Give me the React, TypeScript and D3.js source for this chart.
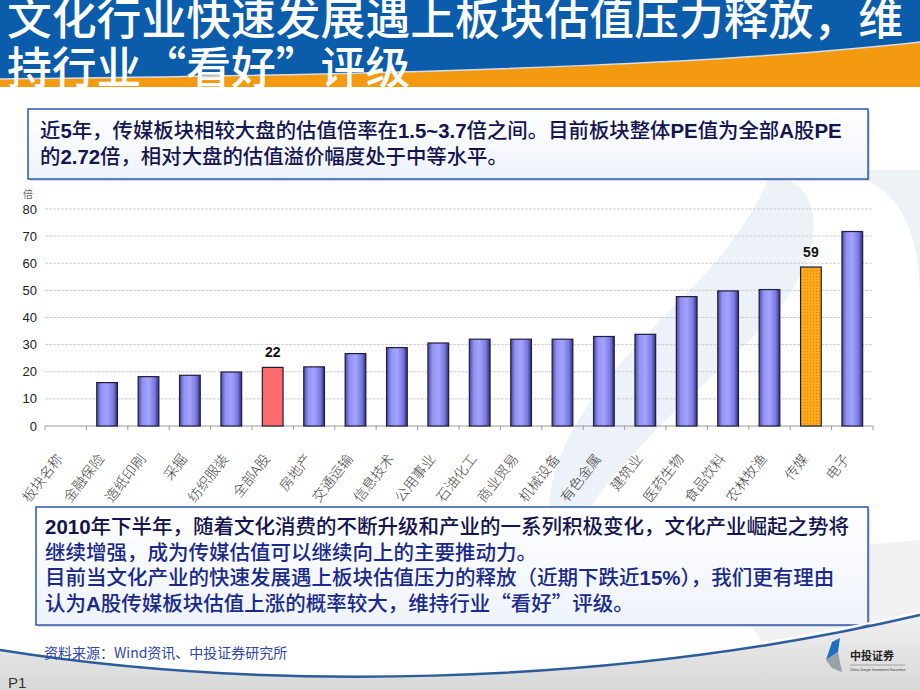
import * as d3 from 'd3';

// 板块PE（倍），读自原图
const categories = ['板块名称', '金融保险', '造纸印刷', '采掘', '纺织服装', '全部A股', '房地产', '交通运输', '信息技术', '公用事业', '石油化工', '商业贸易', '机械设备', '有色金属', '建筑业', '医药生物', '食品饮料', '农林牧渔', '传媒', '电子'];
const peValues = [null, 16, 18.2, 18.7, 19.9, 21.6, 21.8, 26.7, 28.9, 30.6, 32, 32, 32, 33, 33.8, 47.7, 49.8, 50.3, 58.6, 71.7];
const labelled = ['全部A股', '传媒'];
const yTicks = [0, 10, 20, 30, 40, 50, 60, 70, 80];

const titleLines = ['文化行业快速发展遇上板块估值压力释放，维', '持行业“看好”评级'];
const topNote = [
  '近5年，传媒板块相较大盘的估值倍率在1.5~3.7倍之间。目前板块整体PE值为全部A股PE',
  '的2.72倍，相对大盘的估值溢价幅度处于中等水平。',
];
const bottomNote = [
  '2010年下半年，随着文化消费的不断升级和产业的一系列积极变化，文化产业崛起之势将',
  '继续增强，成为传媒估值可以继续向上的主要推动力。',
  '目前当文化产业的快速发展遇上板块估值压力的释放（近期下跌近15%），我们更有理由',
  '认为A股传媒板块估值上涨的概率较大，维持行业“看好”评级。',
];
const source = '资料来源：Wind资讯、中投证券研究所';

const CJK = '"Noto Sans CJK SC", "Noto Sans", sans-serif';
const LATIN = '"Liberation Sans", Arial, sans-serif';

// split a line into latin / cjk runs so numbers come out in Arial bold like the slide
function runs(s: string) {
  const out: { t: string; latin: boolean }[] = [];
  const re = /[0-9A-Za-z.~%]+/g;
  let last = 0;
  let m: RegExpExecArray | null;
  while ((m = re.exec(s))) {
    if (m.index > last) out.push({ t: s.slice(last, m.index), latin: false });
    out.push({ t: m[0], latin: true });
    last = m.index + m[0].length;
  }
  if (last < s.length) out.push({ t: s.slice(last), latin: false });
  return out;
}

function NoteLine({ text, x, y, size, fill }: { text: string; x: number; y: number; size: number; fill: string }) {
  return (
    <text x={x} y={y} fontSize={size} fill={fill} fontFamily={CJK} fontWeight={500}>
      {runs(text).map((r, i) =>
        r.latin ? (
          <tspan key={i} fontFamily={LATIN} fontWeight="bold">{r.t}</tspan>
        ) : (
          <tspan key={i}>{r.t}</tspan>
        )
      )}
    </text>
  );
}

export default function App() {
  const W = 920;
  const H = 690;
  const plot = { left: 45, right: 873, top: 209, bottom: 426 };

  const x = d3.scaleBand<string>().domain(categories).range([plot.left, plot.right]).padding(0);
  const y = d3.scaleLinear().domain([0, 80]).range([plot.bottom, plot.top]);
  const barW = x.step() * 0.5;
  const fmt = d3.format('.0f');

  const footerCurve = 'M0,650 C250,690 600,690 920,615';

  return (
    <div style={{ position: 'absolute', left: 0, top: 0 }}>
      <svg width={W} height={H} style={{ display: 'block' }}>
        <defs>
          <linearGradient id="barGrad" x1="0" x2="1" y1="0" y2="0">
            <stop offset="0%" stopColor="#4a4aa0" />
            <stop offset="22%" stopColor="#9393f5" />
            <stop offset="50%" stopColor="#a3a3ff" />
            <stop offset="80%" stopColor="#7a7ae0" />
            <stop offset="100%" stopColor="#2e2e78" />
          </linearGradient>
          <pattern id="dots" width="3" height="3" patternUnits="userSpaceOnUse">
            <rect width="3" height="3" fill="#ffa81a" />
            <rect width="1" height="1" fill="#e08600" />
          </pattern>
          <linearGradient id="footGrad" x1="0" x2="0" y1="0" y2="1">
            <stop offset="0%" stopColor="#f0f0f0" />
            <stop offset="100%" stopColor="#d8d8d8" />
          </linearGradient>
          <linearGradient id="boxGrad" x1="0" x2="0" y1="0" y2="1">
            <stop offset="0%" stopColor="#ffffff" />
            <stop offset="100%" stopColor="#eef3fb" />
          </linearGradient>
          <clipPath id="titleClip">
            <rect x="0" y="0" width={W} height="96" />
          </clipPath>
        </defs>

        <rect width={W} height={H} fill="#ffffff" />

        {/* faint watermark swoosh */}
        <path d="M770,175 C830,180 830,260 760,330 C690,400 600,470 560,560 C520,470 600,380 680,300 C740,240 760,200 770,175 Z" fill="#edf2f9" />
        <path d="M830,170 C900,178 920,230 920,300 L920,170 Z" fill="#eef1f6" />
        <path d="M700,560 L920,540 L920,690 L800,690 Z" fill="#f1f1f1" />

        {/* title banner */}
        <rect x="0" y="0" width={W} height="87" fill="#f39a10" />
        <path d="M0,0 L920,0 L920,42 C760,60 500,74 0,79 Z" fill="#0b5cab" />
        <path d="M0,79 C500,74 760,60 920,42" fill="none" stroke="#d9dde6" strokeWidth="1.5" />
        <g clipPath="url(#titleClip)">
          {titleLines.map((t, i) => (
            <text key={i} x={7} y={35 + i * 49} fontSize={44.8} fill="#ffffff" fontFamily={CJK} fontWeight={500}>
              {t}
            </text>
          ))}
        </g>

        {/* top note box */}
        <rect x={30} y={111} width={840} height={70} fill="#aab4c8" opacity={0.5} />
        <rect x={28} y={109} width={840} height={70} fill="url(#boxGrad)" stroke="#2e56b0" strokeWidth={1.5} />
        {topNote.map((t, i) => (
          <NoteLine key={i} text={t} x={40} y={138 + i * 26} size={20.4} fill="#14144f" />
        ))}

        {/* chart */}
        <text x={23} y={198} fontSize={10} fill="#666" fontFamily={CJK}>倍</text>
        {yTicks.map((t) => (
          <g key={t}>
            {t > 0 && (
              <line x1={plot.left} x2={plot.right} y1={y(t)} y2={y(t)} stroke="#cfcfcf" strokeWidth={1} strokeDasharray="3,1" />
            )}
            <text x={37} y={y(t)} dy="0.35em" textAnchor="end" fontSize={13} fill="#222" fontFamily={LATIN}>
              {t}
            </text>
          </g>
        ))}
        <line x1={plot.left} x2={plot.right} y1={plot.bottom} y2={plot.bottom} stroke="#9a9a9a" />
        {categories.map((c) => (
          <line key={'tk' + c} x1={x(c) ?? 0} x2={x(c) ?? 0} y1={plot.bottom} y2={plot.bottom + 4} stroke="#9a9a9a" />
        ))}
        <line x1={plot.right} x2={plot.right} y1={plot.bottom} y2={plot.bottom + 4} stroke="#9a9a9a" />

        {categories.map((c, i) => {
          const v = peValues[i];
          if (v == null) return null;
          const cx = (x(c) ?? 0) + x.step() / 2;
          const fill = c === '全部A股' ? '#ff6b6b' : c === '传媒' ? 'url(#dots)' : 'url(#barGrad)';
          return (
            <g key={'b' + c}>
              <rect x={cx - barW / 2} y={y(v)} width={barW} height={plot.bottom - y(v)} fill={fill} stroke="#1e1e3c" strokeWidth={1.2} />
              {labelled.includes(c) && (
                <text x={cx} y={y(v) - 10} textAnchor="middle" fontSize={14} fontWeight="bold" fill="#111" fontFamily={LATIN}>
                  {fmt(v)}
                </text>
              )}
            </g>
          );
        })}

        {categories.map((c) => {
          const cx = (x(c) ?? 0) + x.step() / 2;
          return (
            <text key={'l' + c} transform={`translate(${cx - 2},${plot.bottom + 33}) rotate(-52)`} textAnchor="end" fontSize={14} fill="#444" fontFamily={CJK} fontWeight={300}>
              {c}
            </text>
          );
        })}

        {/* bottom note box */}
        <rect x={38} y={509} width={832} height={118} fill="#aab4c8" opacity={0.5} />
        <rect x={36} y={507} width={832} height={118} fill="url(#boxGrad)" stroke="#2e56b0" strokeWidth={1.5} />
        {bottomNote.map((t, i) => (
          <NoteLine key={i} text={t} x={45} y={534 + i * 25.5} size={20.5} fill={i === 0 ? '#14144f' : '#1a2a8a'} />
        ))}

        {/* footer */}
        <path d={footerCurve + ' L920,690 L0,690 Z'} fill="url(#footGrad)" />
        <path d="M0,647 C250,687 600,687 920,612" fill="none" stroke="#ffffff" strokeWidth={2} />
        <path d={footerCurve} fill="none" stroke="#2b5d9b" strokeWidth={2.5} />
        <text x={44} y={658} fontSize={14} fill="#2f45a8" fontFamily={CJK} fontWeight={400}>
          {source}
        </text>
        <text x={8} y={688} fontSize={15} fill="#333" fontFamily={LATIN}>P1</text>

        {/* logo */}
        <path d="M832,642 L840,638 L838,652 L826,660 Z" fill="#1f6fc0" />
        <path d="M826,660 L838,652 L842,672 L832,668 Z" fill="#9aa0a8" />
        <text x={850} y={660} fontSize={11} fontWeight="bold" fill="#222" fontFamily={CJK}>中投证券</text>
        <line x1={850} x2={905} y1={665} y2={665} stroke="#777" strokeWidth={0.6} />
        <text x={850} y={671} fontSize={3.5} fill="#333" fontFamily={LATIN}>China Jianyin Investment Securities</text>
      </svg>
    </div>
  );
}
